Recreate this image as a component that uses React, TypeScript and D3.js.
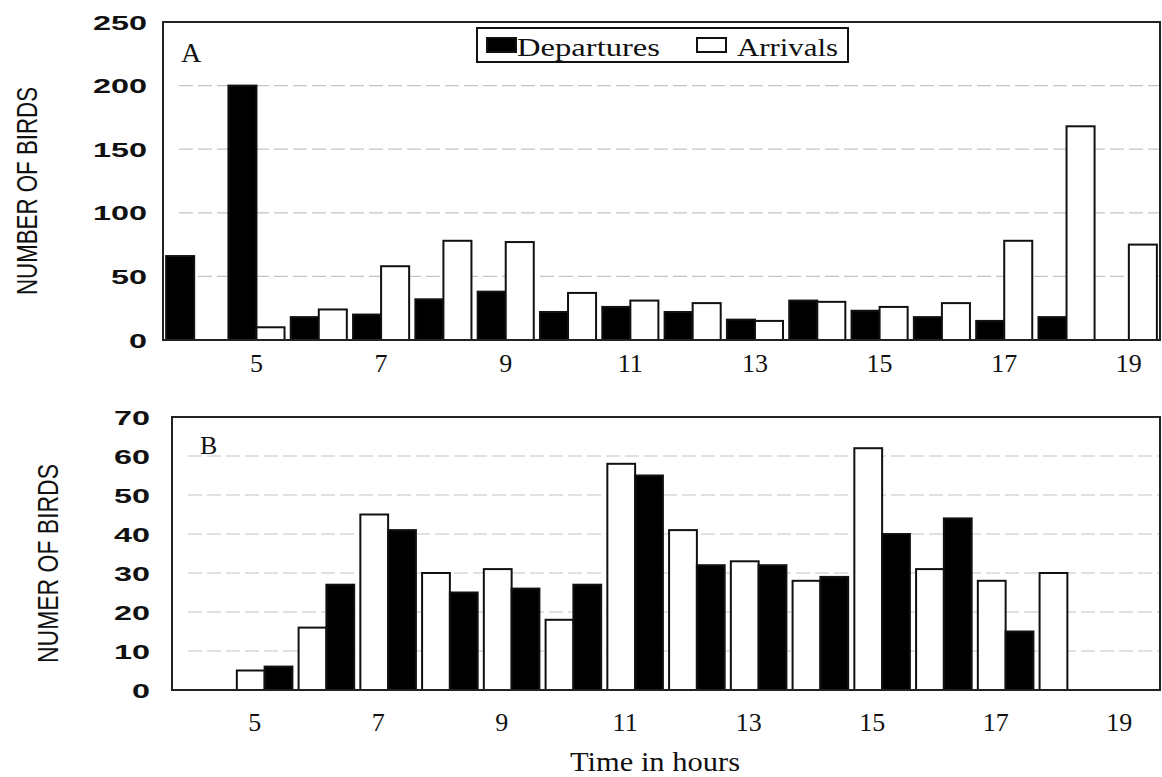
import React, { useRef, useEffect } from 'react';
import * as d3 from 'd3';

// hours covered by each panel, one band per hour
const hours = [4, 5, 6, 7, 8, 9, 10, 11, 12, 13, 14, 15, 16, 17, 18, 19];
const tickHours = [5, 7, 9, 11, 13, 15, 17, 19];

// panel A
const departuresA = [66, 200, 18, 20, 32, 38, 22, 26, 22, 16, 31, 23, 18, 15, 18, 0];
const arrivalsA = [0, 10, 24, 58, 78, 77, 37, 31, 29, 15, 30, 26, 29, 78, 168, 75];
const yTicksA = [0, 50, 100, 150, 200, 250];

// panel B
const arrivalsB = [0, 5, 16, 45, 30, 31, 18, 58, 41, 33, 28, 62, 31, 28, 30, 0];
const departuresB = [0, 6, 27, 41, 25, 26, 27, 55, 32, 32, 29, 40, 44, 15, 0, 0];
const yTicksB = [0, 10, 20, 30, 40, 50, 60, 70];

const serif = '"Liberation Serif", "Times New Roman", serif';
const sans = '"Liberation Sans", Arial, sans-serif';

interface Series {
    values: number[];
    fill: string;
}

interface PanelCfg {
    left: number;
    right: number;
    top: number;
    bottom: number;
    ticks: number[];
    series: Series[];
    letter: string;
    letterX: number;
    letterY: number;
    letterSize: number;
    title: string;
    titleX: number;
    titleLen: number;
    labelRight: number;
    tickY: number;
    tickShift: number;
}

function drawPanel(svg: d3.Selection<SVGSVGElement, unknown, null, undefined>, c: PanelCfg) {
    const g = svg.append('g');
    const yMax = c.ticks[c.ticks.length - 1];

    const x = d3.scaleBand<number>().domain(hours).range([c.left, c.right]).paddingInner(0.1).paddingOuter(0.05);
    const sub = d3.scaleBand<number>().domain(d3.range(c.series.length)).range([0, x.bandwidth()]);
    const y = d3.scaleLinear().domain([0, yMax]).range([c.bottom, c.top]);

    // gridlines
    g.selectAll('line.grid')
        .data(c.ticks.filter(t => t > 0 && t < yMax))
        .enter()
        .append('line')
        .attr('x1', c.left + 16)
        .attr('x2', c.right)
        .attr('y1', d => y(d))
        .attr('y2', d => y(d))
        .attr('stroke', '#c4c4c4')
        .attr('stroke-width', 1.2)
        .attr('stroke-dasharray', '14,5');

    // bars
    c.series.forEach((s, si) => {
        g.selectAll(null)
            .data(hours.map((h, i) => ({ h, v: s.values[i] })).filter(d => d.v > 0))
            .enter()
            .append('rect')
            .attr('x', d => (x(d.h) as number) + (sub(si) as number))
            .attr('y', d => y(d.v))
            .attr('width', sub.bandwidth())
            .attr('height', d => y(0) - y(d.v))
            .attr('fill', s.fill)
            .attr('stroke', '#111')
            .attr('stroke-width', 2);
    });

    // frame
    g.append('rect')
        .attr('x', c.left)
        .attr('y', c.top)
        .attr('width', c.right - c.left)
        .attr('height', c.bottom - c.top)
        .attr('fill', 'none')
        .attr('stroke', '#222')
        .attr('stroke-width', 2);

    // y tick labels (bold, wide)
    g.selectAll('text.ytick')
        .data(c.ticks)
        .enter()
        .append('text')
        .attr('x', c.labelRight)
        .attr('y', d => y(d))
        .attr('dy', '0.36em')
        .attr('text-anchor', 'end')
        .attr('font-family', sans)
        .attr('font-weight', 'bold')
        .attr('font-size', 21)
        .attr('textLength', d => String(d).length * 18)
        .attr('lengthAdjust', 'spacingAndGlyphs')
        .attr('fill', '#111')
        .text(d => d);

    // x tick labels
    g.selectAll('text.xtick')
        .data(tickHours)
        .enter()
        .append('text')
        .attr('x', d => (x(d) as number) + x.bandwidth() / 2 + c.tickShift)
        .attr('y', c.tickY)
        .attr('text-anchor', 'middle')
        .attr('font-family', serif)
        .attr('font-size', 26)
        .attr('fill', '#111')
        .text(d => d);

    // y axis title
    const cy = (c.top + c.bottom) / 2 + 10;
    g.append('text')
        .attr('transform', `translate(${c.titleX},${cy}) rotate(-90)`)
        .attr('text-anchor', 'middle')
        .attr('dy', '0.36em')
        .attr('font-family', sans)
        .attr('font-size', 30)
        .attr('textLength', c.titleLen)
        .attr('lengthAdjust', 'spacingAndGlyphs')
        .attr('fill', '#111')
        .text(c.title);

    // panel letter
    g.append('text')
        .attr('x', c.letterX)
        .attr('y', c.letterY)
        .attr('font-family', serif)
        .attr('font-size', c.letterSize)
        .attr('fill', '#111')
        .text(c.letter);
}

const App: React.FC = () => {
    const ref = useRef<SVGSVGElement | null>(null);

    useEffect(() => {
        const svg = d3.select(ref.current);
        svg.selectAll('*').remove();

        svg.append('rect').attr('width', 1162).attr('height', 777).attr('fill', '#fff');

        drawPanel(svg as any, {
            left: 163, right: 1160, top: 22, bottom: 340,
            ticks: yTicksA,
            series: [
                { values: departuresA, fill: '#000' },
                { values: arrivalsA, fill: '#fff' },
            ],
            letter: 'A', letterX: 181, letterY: 62, letterSize: 28,
            title: 'NUMBER OF BIRDS', titleX: 26, titleLen: 208,
            labelRight: 147, tickY: 372, tickShift: 0,
        });

        drawPanel(svg as any, {
            left: 172, right: 1160, top: 417, bottom: 690,
            ticks: yTicksB,
            series: [
                { values: arrivalsB, fill: '#fff' },
                { values: departuresB, fill: '#000' },
            ],
            letter: 'B', letterX: 200, letterY: 454, letterSize: 26,
            title: 'NUMER OF BIRDS', titleX: 47, titleLen: 199,
            labelRight: 150, tickY: 731, tickShift: -10,
        });

        // legend (panel A)
        const lg = svg.append('g');
        lg.append('rect').attr('x', 477).attr('y', 28).attr('width', 371).attr('height', 34)
            .attr('fill', '#fff').attr('stroke', '#111').attr('stroke-width', 2);
        const items = [
            { name: 'Departures', fill: '#000', sx: 487, tx: 517, len: 143 },
            { name: 'Arrivals', fill: '#fff', sx: 697, tx: 737, len: 101 },
        ];
        items.forEach(it => {
            lg.append('rect').attr('x', it.sx).attr('y', 38).attr('width', 29).attr('height', 14)
                .attr('fill', it.fill).attr('stroke', '#111').attr('stroke-width', 2);
            lg.append('text').attr('x', it.tx).attr('y', 56)
                .attr('font-family', serif).attr('font-size', 25)
                .attr('textLength', it.len).attr('lengthAdjust', 'spacingAndGlyphs')
                .attr('fill', '#111').text(it.name);
        });

        // x axis title
        svg.append('text')
            .attr('x', 655)
            .attr('y', 771)
            .attr('text-anchor', 'middle')
            .attr('font-family', serif)
            .attr('font-size', 27)
            .attr('textLength', 170)
            .attr('lengthAdjust', 'spacingAndGlyphs')
            .attr('fill', '#111')
            .text('Time in hours');
    }, []);

    return <svg ref={ref} width={1162} height={777} style={{ position: 'absolute', left: 0, top: 0 }}></svg>;
};

export default App;
